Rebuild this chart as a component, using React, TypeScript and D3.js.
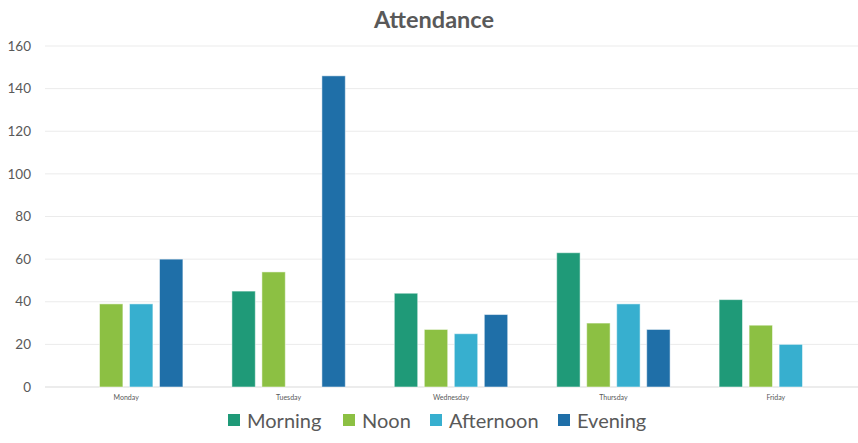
import * as d3 from 'd3';

const days = ['Monday', 'Tuesday', 'Wednesday', 'Thursday', 'Friday'];
const seriesNames = ['Morning', 'Noon', 'Afternoon', 'Evening'];
const morning = [null, 45, 44, 63, 41];
const noon = [39, 54, 27, 30, 29];
const afternoon = [39, null, 25, 39, 20];
const evening = [60, 146, 34, 27, null];
const yTicks = [0, 20, 40, 60, 80, 100, 120, 140, 160];
const colors = ['#1f9a78', '#8cc043', '#37afcf', '#1f6fa8'];

const W = 858;
const H = 443;
const FONT = 'Lato, "Open Sans", sans-serif';

export default function App() {
  const seriesValues = [morning, noon, afternoon, evening];
  const margin = { top: 46, right: 1, bottom: 56, left: 45 };
  const plotH = H - margin.top - margin.bottom;

  const x0 = d3.scaleBand<string>()
    .domain(days)
    .range([margin.left, W - margin.right]);

  const x1 = d3.scaleBand<string>()
    .domain(seriesNames)
    .range([0, 120])
    .paddingInner(0.22)
    .paddingOuter(0.11);

  const y = d3.scaleLinear()
    .domain([0, 160])
    .range([margin.top + plotH, margin.top]);

  const legendX = [228, 343, 430, 558];

  return (
    <svg width={W} height={H} style={{ position: 'absolute', left: 0, top: 0, background: '#fff' }}>
      <text x={434} y={28} textAnchor="middle" fontFamily={FONT} fontWeight="bold" fontSize={23.5} fill="#595959">
        Attendance
      </text>

      {/* gridlines + y labels */}
      {yTicks.map(t => (
        <g key={t}>
          <line x1={margin.left} x2={W} y1={y(t)} y2={y(t)} stroke={t === 0 ? '#d9d9d9' : '#ebebeb'} strokeWidth={1} />
          <text x={31} y={y(t)} dy="0.35em" textAnchor="end" fontFamily={FONT} fontSize={13.5} fill="#595959">{t}</text>
        </g>
      ))}

      {/* bars */}
      {days.map((day, i) => {
        const cx = (x0(day) || 0) + x0.bandwidth() / 2;
        return (
          <g key={day} transform={`translate(${cx - 60},0)`}>
            {seriesNames.map((s, j) => {
              const v = seriesValues[j][i];
              if (v == null) return null;
              return (
                <rect
                  key={s}
                  x={x1(s)}
                  y={y(v)}
                  width={x1.bandwidth()}
                  height={y(0) - y(v)}
                  fill={colors[j]}
                  stroke="#ffffff"
                  strokeOpacity={0.5}
                  strokeWidth={1}
                />
              );
            })}
            <text x={60} y={400} textAnchor="middle" fontFamily={FONT} fontSize={7} fill="#595959">{day}</text>
          </g>
        );
      })}

      {/* legend */}
      {seriesNames.map((s, j) => (
        <g key={s} transform={`translate(${legendX[j]},0)`}>
          <rect x={0} y={414} width={12} height={12} fill={colors[j]} />
          <text x={19} y={428} fontFamily={FONT} fontSize={20} fill="#595959">{s}</text>
        </g>
      ))}
    </svg>
  );
}
